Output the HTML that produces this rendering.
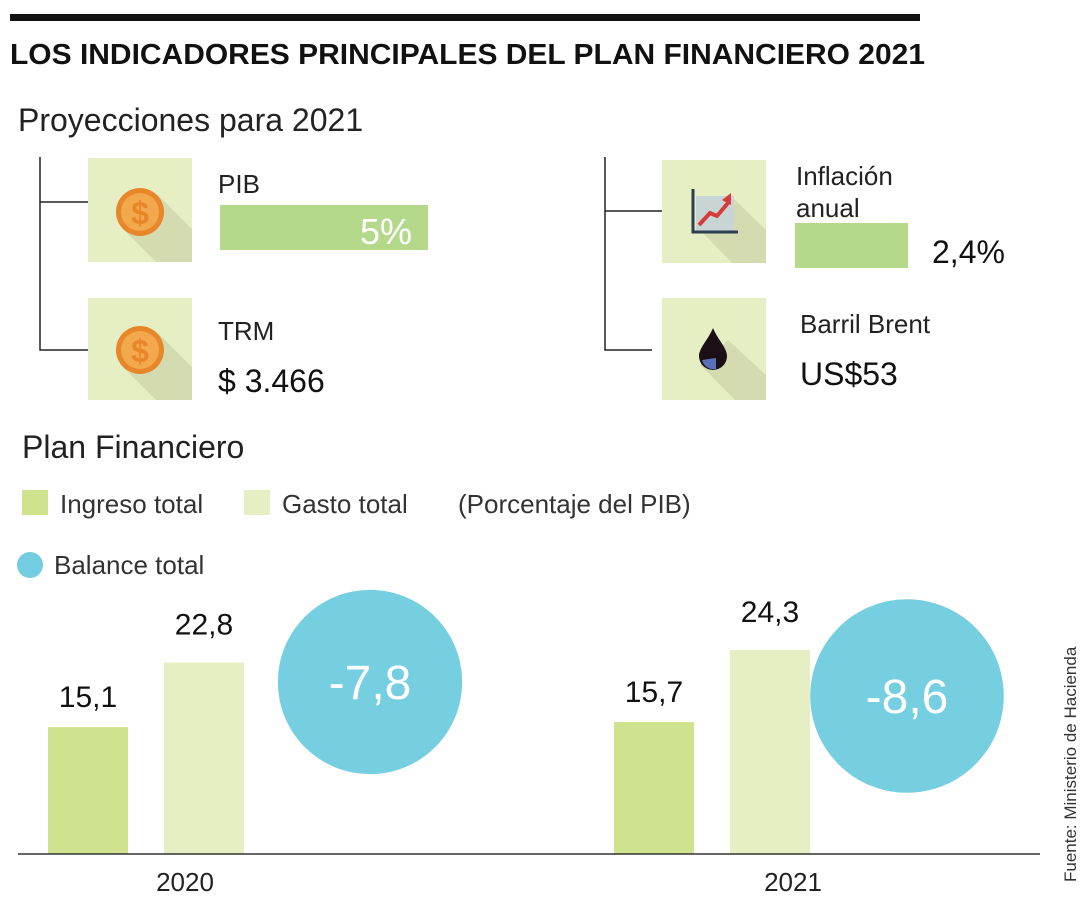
<!DOCTYPE html>
<html><head><meta charset="utf-8"><style>
html,body{margin:0;padding:0;background:#fff}
svg{display:block;font-family:"Liberation Sans",sans-serif}
</style></head><body>
<svg id="chart" width="1080" height="900" viewBox="0 0 1080 900">
<rect x="10" y="14" width="910" height="7" fill="#111"/>
<text x="10" y="64" font-size="29" font-weight="bold" fill="#111" textLength="915" lengthAdjust="spacingAndGlyphs">LOS INDICADORES PRINCIPALES DEL PLAN FINANCIERO 2021</text>
<text x="18" y="131" font-size="32" fill="#222">Proyecciones para 2021</text>

<g stroke="#222" stroke-width="1.5" fill="none">
<path d="M40 157 V350 H88 M40 202 H88"/>
<path d="M605 157 V350 H652 M605 211 H668"/>
</g>

<g>
<rect x="88" y="158" width="104" height="104" fill="#e6efc4"/>
<path d="M123 229 L158 195 L192 229 V262 H156 Z" fill="#d5dbb0"/>
<circle cx="140" cy="212" r="24" fill="#e8862a"/><circle cx="140" cy="212" r="19" fill="#f2a84c"/>
<text x="140" y="224" font-size="32" font-weight="bold" fill="#e8862a" text-anchor="middle">$</text>
</g>
<text x="218" y="193" font-size="26" fill="#222">PIB</text>
<rect x="220" y="205" width="208" height="45" fill="#b5d98a"/>
<text x="412" y="244" font-size="36" fill="#fff" text-anchor="end">5%</text>

<g>
<rect x="88" y="298" width="104" height="102" fill="#e6efc4"/>
<path d="M123 367 L158 333 L192 367 V400 H156 Z" fill="#d5dbb0"/>
<circle cx="140" cy="350" r="24" fill="#e8862a"/><circle cx="140" cy="350" r="19" fill="#f2a84c"/>
<text x="140" y="362" font-size="32" font-weight="bold" fill="#e8862a" text-anchor="middle">$</text>
</g>
<text x="218" y="340" font-size="26" fill="#222">TRM</text>
<text x="218" y="392" font-size="32" fill="#111">$ 3.466</text>

<g>
<rect x="662" y="160" width="104" height="103" fill="#e6efc4"/>
<path d="M700 230 L730 195 L766 230 V263 H732 Z" fill="#d5dbb0"/>
<rect x="696" y="196" width="38" height="35" fill="#c9d4d4"/>
<path d="M693 189 V232 H738" stroke="#2c3e50" stroke-width="3" fill="none"/>
<path d="M699 225 L710 213 L717 216 L728 203" stroke="#d63a3a" stroke-width="4" fill="none"/>
<path d="M722 200 L731 193 L731 205 Z" fill="#d63a3a"/>
</g>
<text x="796" y="185" font-size="26" fill="#222">Inflación</text>
<text x="796" y="217" font-size="26" fill="#222">anual</text>
<rect x="795" y="223" width="113" height="45" fill="#b5d98a"/>
<text x="932" y="263" font-size="32" fill="#111">2,4%</text>

<g>
<rect x="662" y="298" width="104" height="102" fill="#e6efc4"/>
<path d="M700 365 L728 340 L766 375 V400 H735 Z" fill="#d5dbb0"/>
<path d="M713 328 C708 340 699 348 699 356 A14 14 0 0 0 727 356 C727 348 718 340 713 328 Z" fill="#1a1016"/>
<path d="M702 360 A12 12 0 0 0 716 369 V358 Z" fill="#5a6fb8"/>
</g>
<text x="800" y="333" font-size="26" fill="#222">Barril Brent</text>
<text x="800" y="385" font-size="32" fill="#111">US$53</text>

<text x="22" y="458" font-size="32" fill="#222">Plan Financiero</text>
<rect x="22" y="490" width="26" height="25" fill="#cfe38f"/>
<text x="60" y="513" font-size="26" fill="#333">Ingreso total</text>
<rect x="244" y="490" width="26" height="25" fill="#e6efc4"/>
<text x="282" y="513" font-size="26" fill="#333">Gasto total</text>
<text x="458" y="513" font-size="26" fill="#333">(Porcentaje del PIB)</text>
<circle cx="30" cy="565" r="13" fill="#73cde0"/>
<text x="54" y="574" font-size="26" fill="#333">Balance total</text>

<g id="plot"></g>
<line x1="18" y1="854" x2="1040" y2="854" stroke="#333" stroke-width="1.5"/>
<text transform="translate(1076,882) rotate(-90)" font-size="17" fill="#333">Fuente: Ministerio de Hacienda</text>
</svg>
<script>
const years = ["2020", "2021"];
const ingreso = [15.1, 15.7];
const gasto = [22.8, 24.3];
const balance = [-7.8, -8.6];

const NS = "http://www.w3.org/2000/svg";
const g = document.getElementById("plot");
const base = 854;
const yScale = v => base - v * 8.4;
const groupX = i => 48 + i * 566;
const rScale = v => 33 * Math.sqrt(Math.abs(v));
const fmt = v => String(v).replace(".", ",");
function mk(tag, attrs) { const e = document.createElementNS(NS, tag); for (const k in attrs) e.setAttribute(k, attrs[k]); g.appendChild(e); return e; }

years.forEach((yr, i) => {
  const x0 = groupX(i);
  const b1 = mk("rect", {x: x0, y: yScale(ingreso[i]), width: 80, height: base - yScale(ingreso[i]), fill: "#cfe38f"});
  
  
  const t1 = mk("text", {x: x0 + 40, y: yScale(ingreso[i]) - 20, "font-size": 30, "text-anchor": "middle", fill: "#111"});
  t1.textContent = fmt(ingreso[i]);
  
  
  const b2 = mk("rect", {x: x0 + 116, y: yScale(gasto[i]), width: 80, height: base - yScale(gasto[i]), fill: "#e6efc4"});
  
  
  const t2 = mk("text", {x: x0 + 156, y: yScale(gasto[i]) - 28, "font-size": 30, "text-anchor": "middle", fill: "#111"});
  t2.textContent = fmt(gasto[i]);
  
  
  const r = rScale(balance[i]);
  const cx = x0 + 196 + 126 - (i === 1 ? 29 : 0);
  const cy = 682 + i * 14;
  const c = mk("circle", {cx: cx, cy: cy, r: r, fill: "#73cde0", "fill-opacity": 0.98});
  
  
  const t3 = mk("text", {x: cx, y: cy + 17, "font-size": 48, "text-anchor": "middle", fill: "#fff"});
  t3.textContent = fmt(balance[i]);
  
  
  const ty = mk("text", {x: 185 + i * 608, y: 891, "font-size": 26, "text-anchor": "middle", fill: "#222"});
  ty.textContent = yr;
  
  
});
</script>
</body></html>
